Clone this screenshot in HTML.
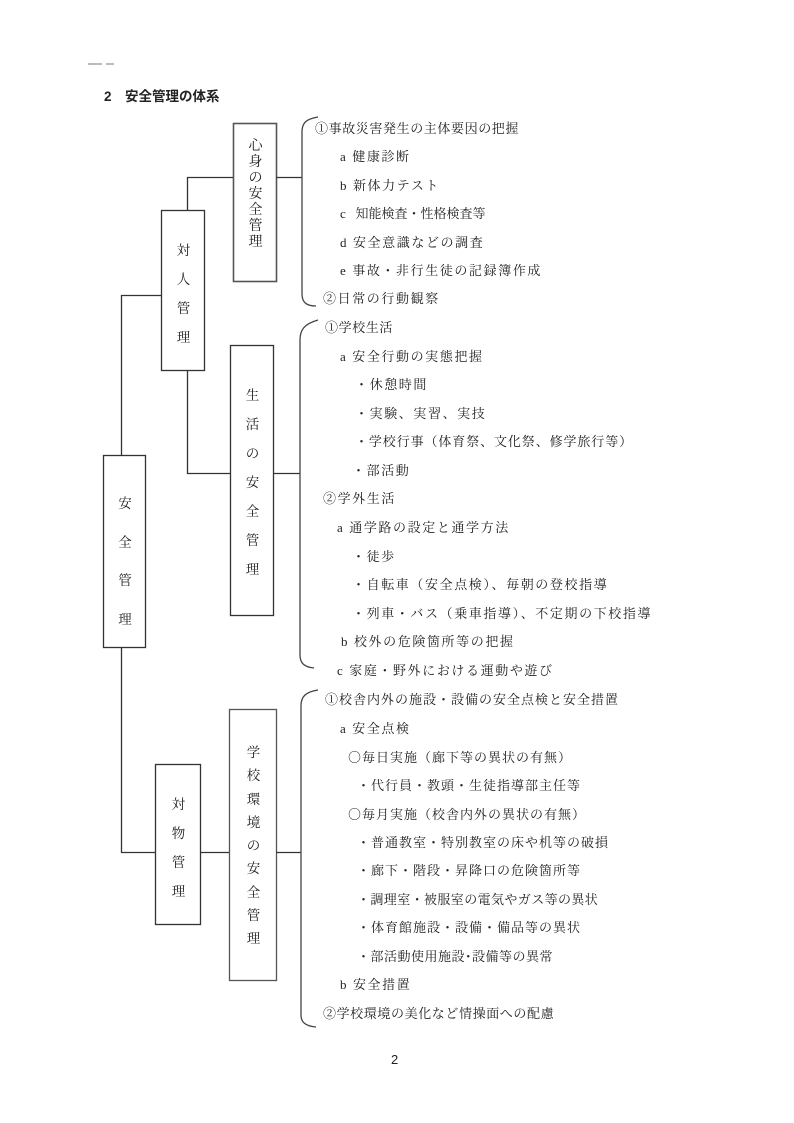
<!DOCTYPE html>
<html><head><meta charset="utf-8"><style>
body{margin:0;background:#fff;}
#p{position:relative;width:794px;height:1123px;overflow:hidden;font-family:"Liberation Serif","Noto Serif CJK JP","Noto Serif CJK SC",serif;color:#222;}
.t{position:absolute;font-size:13px;letter-spacing:1.6px;white-space:nowrap;line-height:18px;}
.v{position:absolute;font-size:13.5px;line-height:18px;text-align:center;}
.c{font-family:"Noto Serif CJK JP",serif;}
svg{position:absolute;left:0;top:0;}
</style></head><body><div id="p">
<svg width="794" height="1123" fill="none" stroke="#333" stroke-width="1.3">
<rect x="88" y="63" width="14" height="2" fill="#bbb" stroke="none"/><rect x="106" y="63" width="8" height="2" fill="#bbb" stroke="none"/>
<rect x="233.5" y="123.5" width="43" height="158" stroke-width="1.6" stroke="#555"/>
<rect x="161.5" y="210.5" width="43" height="160"/>
<rect x="230.5" y="345.5" width="43" height="270"/>
<rect x="103.5" y="455.5" width="42" height="192"/>
<rect x="155.5" y="764.5" width="45" height="160"/>
<rect x="229.5" y="709.5" width="47" height="271" stroke="#555"/>
<path d="M187.5 210V177.5H233M276 177.5H302"/>
<path d="M161 295.5H121.5V455"/>
<path d="M187.5 370V473.5H230M273 473.5H300"/>
<path d="M121.5 647V852.5H155M200 852.5H229M276 852.5H301"/>
<path d="M318 117C306 119 302 123 302 132V294C302 302 306 306 316 306" stroke="#444"/>
<path d="M318 320C304 324 300 330 300 340V655C300 663 304 667 314 668" stroke="#444"/>
<path d="M318 690C305 692 301 697 301 706V1015C301 1022 305 1026 316 1027" stroke="#444"/>
</svg>
<div class="t" style="left:104px;top:88px;font-family:'Liberation Sans','Noto Sans CJK JP',sans-serif;font-weight:bold;font-size:13.5px;letter-spacing:0">2　安全管理の体系</div>
<div class="v" style="left:234px;top:139px;width:43px;line-height:16px;font-size:14px">心<br>身<br>の<br>安<br>全<br>管<br>理</div>
<div class="v" style="left:162px;top:236px;width:43px;line-height:29px">対<br>人<br>管<br>理</div>
<div class="v" style="left:231px;top:381px;width:43px;line-height:29px">生<br>活<br>の<br>安<br>全<br>管<br>理</div>
<div class="v" style="left:104px;top:485px;width:42px;line-height:38.5px">安<br>全<br>管<br>理</div>
<div class="v" style="left:156px;top:790px;width:45px;line-height:29px">対<br>物<br>管<br>理</div>
<div class="v" style="left:230px;top:741px;width:47px;line-height:23.3px">学<br>校<br>環<br>境<br>の<br>安<br>全<br>管<br>理</div>
<div class="t" style="left:315px;top:120px;letter-spacing:0.6px">①事故災害発生の主体要因の把握</div>
<div class="t" style="left:340px;top:148px">a  健康診断</div>
<div class="t" style="left:340px;top:177px">b  新体力テスト</div>
<div class="t" style="left:340px;top:205px;letter-spacing:0">c&nbsp;&nbsp; 知能検査・性格検査等</div>
<div class="t" style="left:340px;top:234px">d  安全意識などの調査</div>
<div class="t" style="left:340px;top:262px">e  事故・非行生徒の記録簿作成</div>
<div class="t" style="left:323px;top:290px">②日常の行動観察</div>
<div class="t" style="left:325px;top:319px;letter-spacing:0.6px">①学校生活</div>
<div class="t" style="left:340px;top:348px">a  安全行動の実態把握</div>
<div class="t" style="left:355px;top:376px">・休憩時間</div>
<div class="t" style="left:355px;top:405px">・実験、実習、実技</div>
<div class="t" style="left:355px;top:433px;letter-spacing:0.9px">・学校行事（体育祭、文化祭、修学旅行等）</div>
<div class="t" style="left:352px;top:462px">・部活動</div>
<div class="t" style="left:323px;top:490px">②学外生活</div>
<div class="t" style="left:337px;top:519px">a  通学路の設定と通学方法</div>
<div class="t" style="left:352px;top:548px">・徒歩</div>
<div class="t" style="left:352px;top:576px">・自転車（安全点検）、毎朝の登校指導</div>
<div class="t" style="left:352px;top:605px">・列車・バス（乗車指導）、不定期の下校指導</div>
<div class="t" style="left:341px;top:633px">b  校外の危険箇所等の把握</div>
<div class="t" style="left:337px;top:662px">c  家庭・野外における運動や遊び</div>
<div class="t" style="left:325px;top:691px;letter-spacing:1px">①校舎内外の施設・設備の安全点検と安全措置</div>
<div class="t" style="left:340px;top:720px">a  安全点検</div>
<div class="t" style="left:348px;top:748px;letter-spacing:1px"><span class="c">○</span>毎日実施（廊下等の異状の有無）</div>
<div class="t" style="left:357px;top:777px;letter-spacing:1px">・代行員・教頭・生徒指導部主任等</div>
<div class="t" style="left:348px;top:805px;letter-spacing:1px"><span class="c">○</span>毎月実施（校舎内外の異状の有無）</div>
<div class="t" style="left:357px;top:834px;letter-spacing:1px">・普通教室・特別教室の床や机等の破損</div>
<div class="t" style="left:357px;top:862px;letter-spacing:1px">・廊下・階段・昇降口の危険箇所等</div>
<div class="t" style="left:357px;top:891px;letter-spacing:0.4px">・調理室・被服室の電気やガス等の異状</div>
<div class="t" style="left:357px;top:919px;letter-spacing:1px">・体育館施設・設備・備品等の異状</div>
<div class="t" style="left:357px;top:948px;letter-spacing:0.5px">・部活動使用施設･設備等の異常</div>
<div class="t" style="left:340px;top:976px">b  安全措置</div>
<div class="t" style="left:323px;top:1005px;letter-spacing:0.6px">②学校環境の美化など情操面への配慮</div>
<div class="t" style="left:391px;top:1051px;font-family:'Liberation Sans',sans-serif;letter-spacing:0">2</div>
</div></body></html>
